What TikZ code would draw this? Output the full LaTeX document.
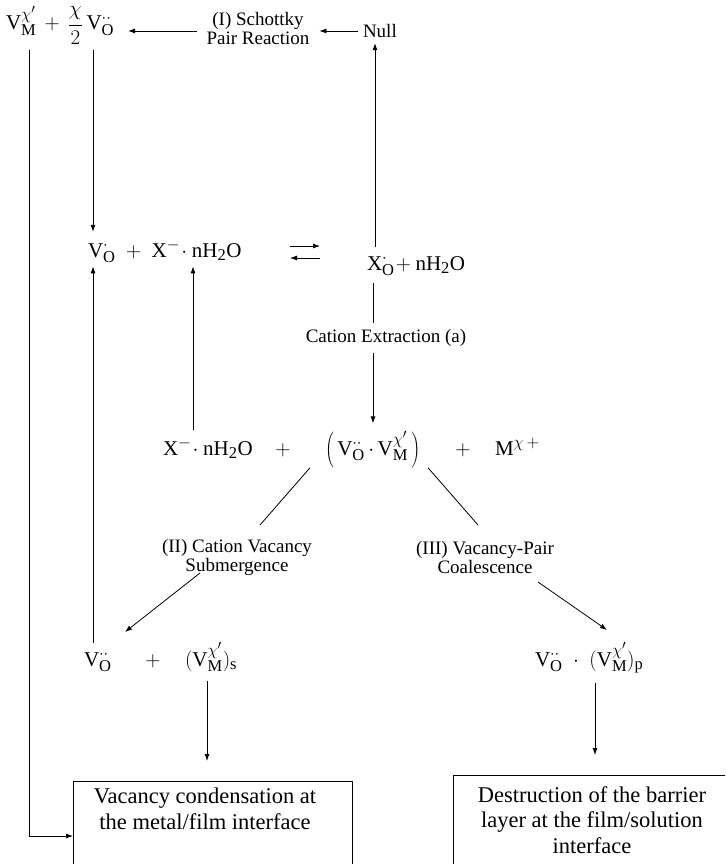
\RequirePackage{fix-cm}
\documentclass[tikz,border=0pt]{standalone}
\usepackage{fontspec}
\setmainfont{Liberation Serif}
\usetikzlibrary{arrows.meta}
\DeclareMathSizes{21}{21}{16.5}{13}
\DeclareMathSizes{23}{23}{18}{14}
\newcommand{\Vx}[2]{\mathrm{V}^{#1}_{\mathrm{#2}}}
\newcommand{\dd}{{\cdot}{\cdot}}
\newcommand{\ds}{{\cdot}}
\begin{document}
\begin{tikzpicture}[x=1pt,y=-1pt,
  every node/.style={inner sep=0pt,outer sep=0pt},
  chem/.style={font=\fontsize{21}{25}\selectfont},
  lab/.style={font=\fontsize{19}{19}\selectfont, align=center},
  boxt/.style={font=\fontsize{22.5}{25.5}\selectfont, align=center},
  boxr/.style={draw, line width=1pt, minimum width=#1, minimum height=140pt, anchor=north west},
  arr/.style={line width=0.8pt,-{Latex[length=7pt,width=5pt]}},
  ln/.style={line width=0.8pt}]
\useasboundingbox (0,0) rectangle (725,864);
\clip (0,0) rectangle (725,864);

% top row
\node[chem,anchor=base west] (top) at (6,30) {$\Vx{\chi'}{M}\,+\,{\displaystyle\frac{\chi}{2}}\,\Vx{\dd}{O}$};
\node[lab] (schottky) at (258,29) {(I) Schottky\\Pair Reaction};
\node[lab,anchor=base west] (null) at (363,38) {Null};

% row 2
\node[chem,anchor=base west] (vox) at (88,257) {$\Vx{\ds}{O}\;+\;\mathrm{X}^{-}\!\cdot\mathrm{nH_2O}$};
\node[chem,anchor=base west] (xo) at (367,270) {$\mathrm{X}^{\ds}_{\mathrm{O}}\!+\mathrm{nH_2O}$};
\node[lab] (cext) at (386,338) {Cation Extraction (a)};

% row 3
\node[chem,anchor=base west] (xh) at (163,455) {$\mathrm{X}^{-}\!\cdot\mathrm{nH_2O}$};
\node[chem,anchor=base] (p1) at (283,455) {$+$};
\node[chem,anchor=base west] (pair) at (325,455) {$\left(\,\Vx{\dd}{O}\,{\cdot}\,\Vx{\chi'}{M}\,\right)$};
\node[chem,anchor=base] (p2) at (463,455) {$+$};
\node[chem,anchor=base west] (mx) at (495,455) {$\mathrm{M}^{\chi\,+}$};

\node[lab] (sub) at (237,557) {(II) Cation Vacancy\\Submergence};
\node[lab] (coal) at (485,557) {(III) Vacancy-Pair\\Coalescence};

% row 4
\node[chem,anchor=base west] (vo4) at (84,666) {$\Vx{\dd}{O}$};
\node[chem,anchor=base] (p3) at (153,666) {$+$};
\node[chem,anchor=base west] (vms) at (185,666) {$(\Vx{\chi'}{M})_{\mathrm{s}}$};
\node[chem,anchor=base west] (vop) at (535,666) {$\Vx{\dd}{O}\;\cdot\;(\Vx{\chi'}{M})_{\mathrm{p}}$};

% boxes
\node[boxr=279pt] (box1) at (73,781) {};
\node[boxt,anchor=base] (t1) at (205,829) {Vacancy condensation at\\the metal/film interface};
\node[boxr=290pt] (box2) at (453,775) {};
\node[boxt,anchor=base] (t2) at (592,853) {Destruction of the barrier\\layer at the film/solution\\interface};

% connectors
\draw[arr, shorten <=10pt, shorten >=14pt] (schottky.west |- 0,31) -- (top.east |- 0,31);
\draw[arr, shorten <=5pt, shorten >=10pt] (null.west |- 0,31) -- (schottky.east |- 0,31);
\draw[arr, shorten <=8pt, shorten >=5pt] (xo.north -| 375,0) -- (null.south -| 375,0);
\draw[arr, shorten <=6pt] (top.south -| 29,0) -- (29,836) -- (box1.west |- 0,836);
\draw[arr, shorten <=6pt, shorten >=8pt] (top.south -| 93,0) -- (vox.north -| 93,0);

\draw[arr] (290,246) -- (320,246);
\draw[arr] (320,258) -- (290,258);

\draw[ln, shorten <=8pt, shorten >=6pt] (xo.south -| 373,0) -- (cext.north -| 373,0);
\draw[arr, shorten <=6pt, shorten >=8pt] (cext.south -| 373,0) -- (pair.north -| 373,0);

\draw[arr, shorten <=8pt, shorten >=4pt] (xh.north -| 193,0) -- (vox.south -| 193,0);
\draw[arr, shorten <=8pt, shorten >=4pt] (vo4.north -| 93,0) -- (vox.south -| 93,0);

\draw[ln] (pair.south -| 310,0) -- (260,525);
\draw[arr] (200,573) -- (125,632);
\draw[ln] (pair.south -| 428,0) -- (478,525);
\draw[arr] (538,582) -- (607,630);

\draw[arr, shorten <=10pt, shorten >=20pt] (vms.south -| 207,0) -- (box1.north -| 207,0);
\draw[arr, shorten <=10pt, shorten >=20pt] (vop.south -| 595,0) -- (box2.north -| 595,0);
\end{tikzpicture}
\end{document}
